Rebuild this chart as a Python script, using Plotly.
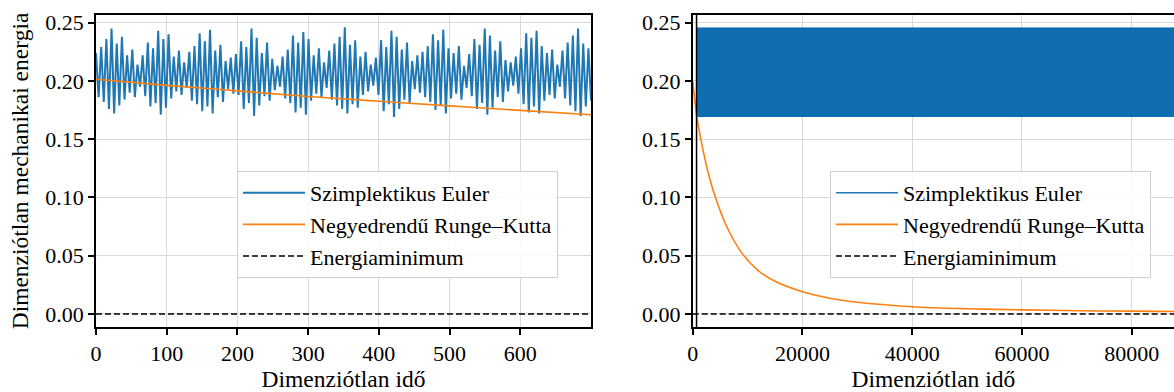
import numpy as np
import plotly.graph_objects as go

# ---------------- data ----------------
# Left panel: symplectic Euler energy, alternating local maxima / minima
euler_peaks = [
    0.224, 0.229, 0.236, 0.245, 0.232, 0.238, 0.222, 0.227, 0.214,
    0.222, 0.233, 0.228, 0.243, 0.236, 0.240, 0.221, 0.226, 0.216,
    0.225, 0.230, 0.241, 0.234, 0.244, 0.226, 0.231, 0.217, 0.220,
    0.223, 0.234, 0.229, 0.245, 0.237, 0.224, 0.233, 0.219, 0.213,
    0.221, 0.227, 0.239, 0.233, 0.242, 0.236, 0.222, 0.228, 0.216,
    0.226, 0.232, 0.238, 0.246, 0.231, 0.235, 0.221, 0.225, 0.214,
    0.220, 0.235, 0.229, 0.243, 0.238, 0.227, 0.233, 0.217, 0.222,
    0.225, 0.230, 0.240, 0.235, 0.244, 0.228, 0.224, 0.230, 0.213,
    0.223, 0.236, 0.231, 0.245, 0.239, 0.226, 0.234, 0.218, 0.216,
    0.221, 0.228, 0.241, 0.237, 0.243, 0.230, 0.224, 0.227, 0.214,
    0.226, 0.233, 0.239, 0.245, 0.232, 0.228,
]
euler_troughs = [
    0.186, 0.182, 0.176, 0.172, 0.179, 0.184, 0.190, 0.186, 0.195,
    0.187, 0.178, 0.181, 0.171, 0.177, 0.185, 0.191, 0.188, 0.194,
    0.183, 0.180, 0.174, 0.178, 0.172, 0.186, 0.182, 0.193, 0.189,
    0.188, 0.176, 0.181, 0.170, 0.179, 0.187, 0.183, 0.192, 0.195,
    0.185, 0.181, 0.173, 0.177, 0.171, 0.183, 0.189, 0.186, 0.194,
    0.184, 0.179, 0.176, 0.172, 0.180, 0.177, 0.188, 0.191, 0.196,
    0.188, 0.174, 0.180, 0.169, 0.176, 0.184, 0.181, 0.193, 0.190,
    0.186, 0.182, 0.175, 0.179, 0.172, 0.185, 0.189, 0.184, 0.194,
    0.187, 0.176, 0.181, 0.171, 0.177, 0.186, 0.182, 0.191, 0.196,
    0.189, 0.180, 0.173, 0.178, 0.172, 0.183, 0.188, 0.185, 0.195,
    0.185, 0.179, 0.174, 0.170, 0.178, 0.183,
]
left_t_end = 700

# Left panel: RK4 energy
rk_left_t = [0, 100, 200, 300, 400, 500, 600, 700]
rk_left_e = [0.2014, 0.1962, 0.1915, 0.1866, 0.1826, 0.1786, 0.1747, 0.1710]

# Right panel: symplectic Euler energy (dense oscillation band envelope)
band_t = [700, 30000, 60000, 100000]
band_upper = [0.2455, 0.2455, 0.2455, 0.2455]
band_lower = [0.1690, 0.1690, 0.1690, 0.1690]

# Right panel: RK4 energy
rk_right_t = [0, 700, 1000, 2000, 3000, 4000, 6000, 9000, 12000, 15000, 20000,
              25000, 30000, 40000, 50000, 60000, 70000, 80000, 90000, 100000]
rk_right_e = [0.200, 0.171, 0.162, 0.138, 0.118, 0.102, 0.077, 0.052, 0.037, 0.028, 0.019,
              0.0135, 0.0100, 0.0062, 0.0045, 0.0035, 0.0028, 0.0024, 0.0021, 0.0019]

energy_min = 0.0
marker_t = 700

x_ticks_left = [0, 100, 200, 300, 400, 500, 600]
x_ticks_right = [0, 20000, 40000, 60000, 80000]
y_ticks = [0.00, 0.05, 0.10, 0.15, 0.20, 0.25]

names = ["Szimplektikus Euler", "Negyedrendű Runge–Kutta", "Energiaminimum"]

# ---------------- build series ----------------
euler_left = [v for pair in zip(euler_peaks, euler_troughs) for v in pair]
t_left = np.linspace(0, left_t_end, len(euler_left))

BLUE = "#1f77b4"
BAND = "#0f6db0"
ORANGE = "#ff7f0e"
FONT = '"Liberation Serif", "Times New Roman", Times, serif'
FS_TICK = 22
FS_LEG = 22
FS_TITLE = 23.5

fig = go.Figure()

# left panel
fig.add_trace(go.Scatter(x=t_left, y=euler_left, mode="lines", name=names[0],
                         line=dict(color=BLUE, width=2.0), xaxis="x", yaxis="y",
                         legend="legend", legendgroup="a1"))
fig.add_trace(go.Scatter(x=rk_left_t, y=rk_left_e, mode="lines", name=names[1],
                         line=dict(color=ORANGE, width=1.6, shape="spline"), xaxis="x", yaxis="y",
                         legend="legend", legendgroup="b1"))
fig.add_trace(go.Scatter(x=[0, left_t_end], y=[energy_min, energy_min], mode="lines", name=names[2],
                         line=dict(color="black", width=1.5, dash="6px,3px"), xaxis="x", yaxis="y",
                         legend="legend", legendgroup="c1"))

# right panel
fig.add_trace(go.Scatter(x=band_t, y=band_lower, mode="lines", line=dict(color=BAND, width=0),
                         xaxis="x2", yaxis="y2", showlegend=False, hoverinfo="skip"))
fig.add_trace(go.Scatter(x=band_t, y=band_upper, mode="lines", fill="tonexty",
                         fillcolor=BAND, line=dict(color=BAND, width=1), xaxis="x2", yaxis="y2",
                         showlegend=False, hoverinfo="skip"))
# legend entry for the band (line symbol like the reference)
fig.add_trace(go.Scatter(x=[None], y=[None], mode="lines", name=names[0],
                         line=dict(color=BLUE, width=1.6), xaxis="x2", yaxis="y2",
                         legend="legend2", legendgroup="a2"))
fig.add_trace(go.Scatter(x=rk_right_t, y=rk_right_e, mode="lines", name=names[1],
                         line=dict(color=ORANGE, width=1.6, shape="spline", smoothing=0.8),
                         xaxis="x2", yaxis="y2", legend="legend2", legendgroup="b2"))
fig.add_trace(go.Scatter(x=[0, rk_right_t[-1]], y=[energy_min, energy_min], mode="lines", name=names[2],
                         line=dict(color="black", width=1.5, dash="6px,3px"), xaxis="x2", yaxis="y2",
                         legend="legend2", legendgroup="c2"))
fig.add_vline(x=marker_t, line=dict(color="black", width=1.5), xref="x2", yref="y2")

W, H = 1174, 392
ydom = [1 - 327 / H, 1 - 15 / H]
yr = [-0.0112, 0.2566]

common = dict(showline=True, linecolor="black", linewidth=1.5, ticks="outside", ticklen=6,
              tickwidth=1.5, tickcolor="black", showgrid=True, gridcolor="#d9d9d9", gridwidth=1.3,
              zeroline=False, automargin=False, tickfont=dict(family=FONT, size=FS_TICK, color="black"))

legend_common = dict(font=dict(family=FONT, size=FS_LEG, color="black"), bgcolor="rgba(255,255,255,0.85)",
                     bordercolor="#cfcfcf", borderwidth=1, xanchor="left", yanchor="top",
                     traceorder="grouped", tracegroupgap=0, itemwidth=62)

fig.update_layout(
    width=W, height=H, margin=dict(l=0, r=0, t=0, b=0),
    paper_bgcolor="white", plot_bgcolor="white",
    font=dict(family=FONT, size=FS_TICK, color="black"),
    showlegend=True,
    xaxis=dict(domain=[96 / W, 591 / W], range=[0, left_t_end], anchor="y", mirror=True,
               tickvals=x_ticks_left, tickformat="d",
               title=dict(text="Dimenziótlan idő", standoff=7, font=dict(family=FONT, size=FS_TITLE)),
               **common),
    yaxis=dict(domain=ydom, range=yr, anchor="x", mirror=True, tickvals=y_ticks, tickformat=".2f",
               title=dict(text="Dimenziótlan mechanikai energia", standoff=10, font=dict(family=FONT, size=FS_TITLE)),
               **common),
    xaxis2=dict(domain=[692.7 / W, 1.0], range=[0, 87700], anchor="y2", mirror=True,
                tickvals=x_ticks_right, tickformat="d",
                title=dict(text="Dimenziótlan idő", standoff=7, font=dict(family=FONT, size=FS_TITLE)),
                **common),
    yaxis2=dict(domain=ydom, range=yr, anchor="x2", mirror=False, tickvals=y_ticks, tickformat=".2f",
                **common),
    legend=dict(x=237 / W, y=1 - 171 / H, **legend_common),
    legend2=dict(x=830 / W, y=1 - 171 / H, **legend_common),
)

fig.write_html("out.html")
